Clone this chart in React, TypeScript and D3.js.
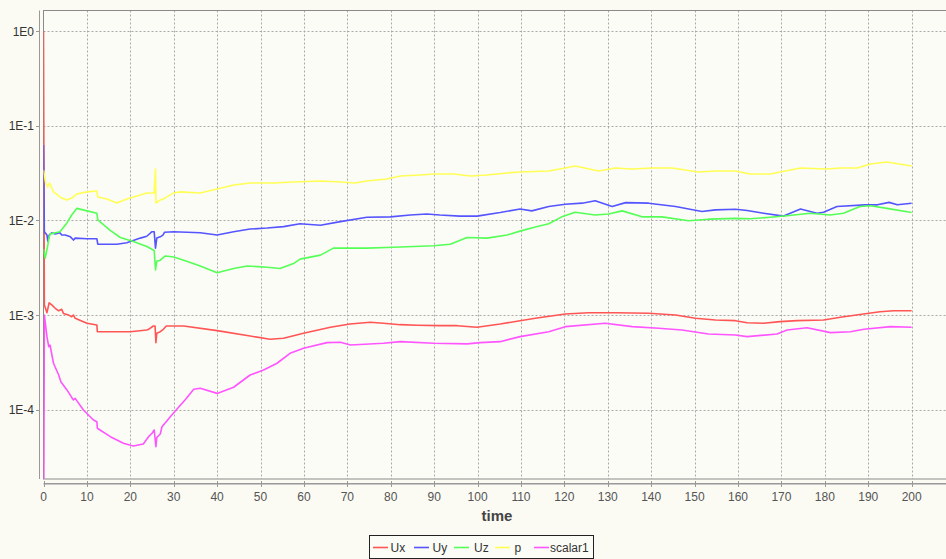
import React from 'react';
import * as d3 from 'd3';

const W = 946;
const H = 559;
const M = { left: 43.5, top: 10.5, right: 945.5, bottom: 479 };

const seriesNames = ['Ux', 'Uy', 'Uz', 'p', 'scalar1'];
const seriesColors = ['#ff5555', '#5555ff', '#55ff55', '#ffff55', '#ff55ff'];

const xTicks = d3.range(0, 201, 10);
const yTickValues = [1, 0.1, 0.01, 0.001, 0.0001];
const yTickLabels = ['1E0', '1E-1', '1E-2', '1E-3', '1E-4'];

const uxData: [number, number][] = [
  [0, 1.0], [0.2, 0.00128], [0.8, 0.00106], [1.3, 0.00135], [1.9, 0.00128], [2.7, 0.00118], [3.5, 0.00111],
  [4.2, 0.00115], [4.6, 0.00104], [5.8, 0.001], [6.5, 0.00096], [6.9, 0.001], [7.3, 0.000925], [10, 0.000819],
  [12.3, 0.000786], [12.4, 0.000668], [16.9, 0.000668], [20, 0.000668], [23.8, 0.000696], [24.2, 0.000708],
  [25.3, 0.000767], [25.7, 0.000767], [25.9, 0.000512], [26.1, 0.000643], [26.9, 0.000668], [27.6, 0.000708],
  [28.3, 0.000767], [32.3, 0.000767], [40, 0.000685], [47.6, 0.000602], [52.2, 0.000555], [55.3, 0.000569],
  [59.9, 0.000643], [66.1, 0.000743], [70.6, 0.000805], [75.3, 0.000839], [78.3, 0.000819], [82.2, 0.000792],
  [86, 0.00078], [91.3, 0.000773], [95.3, 0.000773], [99.9, 0.000743], [105.2, 0.000805], [109.8, 0.000873],
  [113.3, 0.000925], [120.2, 0.001027], [125.6, 0.00106], [131.7, 0.00106], [139.4, 0.001044], [145.6, 0.001003],
  [150.2, 0.000925], [154.8, 0.000888], [159.4, 0.000873], [162.1, 0.000831], [165.9, 0.000819], [169.7, 0.000852],
  [173.6, 0.000873], [179.7, 0.000888], [183.6, 0.000948], [188.9, 0.001027], [192.7, 0.001086], [195.9, 0.001113],
  [200, 0.001113],
];

const uyData: [number, number][] = [
  [0, 0.0625], [0.2, 0.0076], [0.8, 0.007], [1.0, 0.006], [1.3, 0.007], [1.9, 0.0074], [2.7, 0.0072], [3.8, 0.0074],
  [4.2, 0.007], [5.0, 0.007], [6.2, 0.0067], [6.9, 0.0062], [7.3, 0.0065], [10, 0.0064], [12.3, 0.0064],
  [12.5, 0.0056], [16.9, 0.0056], [19.2, 0.0058], [22.3, 0.0065], [23.8, 0.0068], [25.0, 0.0076], [25.5, 0.0076],
  [25.8, 0.0051], [26.1, 0.0065], [26.9, 0.0067], [27.5, 0.007], [27.9, 0.0075], [30, 0.0076], [36.1, 0.0074],
  [40, 0.007], [43.8, 0.0076], [47.6, 0.0081], [51.5, 0.0083], [55.3, 0.0086], [59.1, 0.0092], [63.8, 0.0089],
  [68.4, 0.0097], [74.5, 0.0108], [79.9, 0.0109], [84.5, 0.0114], [88.3, 0.0117], [91.3, 0.0114], [95.9, 0.0111],
  [99.9, 0.0111], [105.2, 0.0121], [109.8, 0.0132], [112.5, 0.0126], [116.4, 0.014], [120.2, 0.0148],
  [124.1, 0.0152], [127.1, 0.0161], [131, 0.014], [134.1, 0.0154], [139.4, 0.0152], [145.6, 0.014],
  [151.7, 0.0124], [154.8, 0.0129], [159.4, 0.0131], [162.1, 0.0127], [165.9, 0.0119], [170.5, 0.0111],
  [174.4, 0.0132], [178.2, 0.0119], [179.7, 0.0122], [182.8, 0.014], [189.2, 0.0146], [192.1, 0.0146],
  [194.8, 0.0155], [196.7, 0.0146], [200, 0.0152],
];

const uzData: [number, number][] = [
  [0, 0.005], [0.4, 0.004], [1.0, 0.0055], [1.3, 0.0067], [1.6, 0.0072], [3.8, 0.0076], [5.4, 0.0094],
  [6.5, 0.0114], [7.7, 0.0134], [10, 0.0126], [12.3, 0.0119], [12.5, 0.0101], [15.3, 0.0079], [17.7, 0.0066],
  [20.7, 0.006], [23.8, 0.0053], [25.5, 0.0048], [25.8, 0.003], [26.1, 0.0037], [26.9, 0.0038], [27.7, 0.0041],
  [28.1, 0.0042], [30, 0.0041], [33, 0.0037], [36.1, 0.0033], [40, 0.0028], [43.8, 0.0031], [46.9, 0.0033],
  [51.5, 0.0032], [54.5, 0.0031], [57.6, 0.0035], [59.1, 0.0039], [63.8, 0.0043], [66.8, 0.0051], [70.7, 0.0051],
  [74.5, 0.0051], [80.7, 0.0052], [85.3, 0.0053], [89.9, 0.0054], [93.7, 0.0056], [97.6, 0.0066], [102.2, 0.0065],
  [106.8, 0.007], [109.8, 0.0077], [113.3, 0.0085], [116.4, 0.0092], [119.4, 0.0109], [122.5, 0.0122],
  [127.1, 0.0114], [130.2, 0.0117], [133.3, 0.0126], [137.9, 0.0109], [142.5, 0.0109], [148.6, 0.0099],
  [153.2, 0.0103], [159.4, 0.0105], [162.8, 0.0104], [167.4, 0.0108], [171.3, 0.0112], [176.6, 0.0119],
  [181.2, 0.0114], [184.3, 0.0119], [188.1, 0.014], [190.5, 0.0143], [194.3, 0.0134], [200, 0.0121],
];

const pData: [number, number][] = [
  [0, 0.034], [0.5, 0.0248], [1.0, 0.0225], [1.4, 0.0248], [2.3, 0.02], [4.2, 0.0172], [5.4, 0.0164],
  [6.5, 0.0172], [7.7, 0.019], [10, 0.02], [12.3, 0.0204], [12.5, 0.0177], [14.6, 0.0168], [16.9, 0.0153],
  [19.2, 0.0168], [22.3, 0.0185], [23.8, 0.0195], [25.5, 0.0195], [25.8, 0.0349], [25.9, 0.0153], [26.9, 0.0164],
  [27.6, 0.0168], [28.4, 0.0177], [30, 0.0195], [31.5, 0.02], [36.1, 0.0195], [40, 0.0215], [43.8, 0.0236],
  [47.6, 0.0248], [53, 0.0248], [57.6, 0.0254], [63.8, 0.0261], [68.4, 0.0254], [71.8, 0.0248], [74.5, 0.0261],
  [79.1, 0.0274], [82.2, 0.0294], [86.8, 0.0302], [89.9, 0.0309], [94.5, 0.0309], [98.3, 0.0294],
  [102.2, 0.0302], [106.8, 0.0317], [109.8, 0.0324], [116.4, 0.0332], [120.2, 0.0357], [122.5, 0.0375],
  [127.9, 0.0332], [131.7, 0.0357], [135.6, 0.0349], [140.2, 0.0357], [144.8, 0.0357], [150.9, 0.0324],
  [154.8, 0.0332], [159.4, 0.0332], [162.8, 0.0309], [167.4, 0.0309], [169.7, 0.0324], [174.4, 0.0357],
  [180.5, 0.0349], [183.6, 0.0357], [187.5, 0.0357], [190.5, 0.0394], [194.3, 0.0414], [200, 0.0375],
];

const scalar1Data: [number, number][] = [
  [0, 0.000001], [0.2, 0.001], [0.8, 0.000592], [1.2, 0.000464], [1.5, 0.000483], [2.3, 0.00031], [3.5, 0.000233],
  [4.0, 0.000198], [5.4, 0.000162], [6.5, 0.000135], [6.9, 0.000127], [7.3, 0.000132], [9.2, 0.0000995],
  [11.5, 0.000078], [12.3, 0.0000748], [12.4, 0.0000638], [15.4, 0.000052], [18.4, 0.0000443], [20.7, 0.0000415],
  [23, 0.0000435], [24.2, 0.000052], [25, 0.0000565], [25.5, 0.0000612], [25.9, 0.0000408], [26.1, 0.000051],
  [26.9, 0.0000555], [27.3, 0.0000662], [28.4, 0.000076], [30, 0.000093], [32.8, 0.00013], [34.6, 0.000165],
  [36.1, 0.000169], [40, 0.000149], [43.8, 0.000173], [47.6, 0.000233], [50.7, 0.000263], [53.8, 0.00031],
  [56.8, 0.000395], [59.9, 0.000446], [65.3, 0.000512], [68.4, 0.000516], [70.7, 0.000483], [78.3, 0.000504],
  [82.2, 0.000524], [89.9, 0.000504], [97.6, 0.000496], [100.6, 0.000512], [105.2, 0.000524], [109.8, 0.000592],
  [116.4, 0.000668], [120.2, 0.000755], [129.4, 0.000819], [135.6, 0.000755], [141.7, 0.000726],
  [147.1, 0.000696], [153.2, 0.000631], [159.4, 0.000616], [162.1, 0.000592], [169, 0.000631], [171.3, 0.000696],
  [175.9, 0.000736], [181.3, 0.000653], [185.9, 0.000668], [189, 0.000708], [195.1, 0.000755], [200, 0.000743],
];

const allSeries = [uxData, uyData, uzData, pData, scalar1Data];

export default function App() {
  const x = d3.scaleLinear().domain([0, 207.8]).range([M.left, M.right]);
  const y = d3.scaleLog().domain([Math.pow(10, -4.731), Math.pow(10, 0.2165)]).range([M.bottom, M.top]);
  const line = d3
    .line<[number, number]>()
    .x((d) => x(d[0]))
    .y((d) => y(d[1]));

  const font = "'Liberation Sans', Arial, sans-serif";
  const legendItems = [
    { x: 373, tx: 390.5 },
    { x: 414, tx: 432.5 },
    { x: 454, tx: 474 },
    { x: 495, tx: 514.5 },
    { x: 534, tx: 550 },
  ];

  return (
    <svg
      width={W}
      height={H}
      style={{ position: 'absolute', left: 0, top: 0, display: 'block' }}
      fontFamily={font}
    >
      <defs>
        <clipPath id="plotclip">
          <rect x={M.left} y={M.top} width={M.right - M.left} height={M.bottom - M.top} />
        </clipPath>
      </defs>
      <rect x={0} y={0} width={W} height={H} fill="#fbfbf4" />
      <rect x={M.left} y={M.top} width={M.right - M.left} height={M.bottom - M.top} fill="#fcfcf6" />

      {/* gridlines */}
      {xTicks.filter((t) => t > 0).map((t) => (
        <line
          key={'gx' + t}
          x1={Math.round(x(t)) + 0.5}
          x2={Math.round(x(t)) + 0.5}
          y1={M.top}
          y2={M.bottom}
          stroke="#a8a8a8"
          strokeWidth={1}
          strokeDasharray="2,2"
        />
      ))}
      {yTickValues.map((v) => (
        <line
          key={'gy' + v}
          x1={M.left}
          x2={M.right}
          y1={Math.round(y(v)) + 0.5}
          y2={Math.round(y(v)) + 0.5}
          stroke="#a8a8a8"
          strokeWidth={1}
          strokeDasharray="2,2"
        />
      ))}

      {/* plot outline */}
      <rect
        x={M.left}
        y={M.top}
        width={M.right - M.left + 2}
        height={M.bottom - M.top}
        fill="none"
        stroke="#8a8a8a"
        strokeWidth={1}
      />

      {/* series */}
      <g clipPath="url(#plotclip)">
        {allSeries.map((s, i) => (
          <path
            key={seriesNames[i]}
            d={line(s) || ''}
            fill="none"
            stroke={seriesColors[i]}
            strokeWidth={1.6}
            strokeLinejoin="round"
          />
        ))}
      </g>

      {/* y axis */}
      <line x1={39.5} x2={39.5} y1={M.top} y2={M.bottom} stroke="#999" strokeWidth={1} />
      {yTickValues.map((v, i) => (
        <g key={'yt' + v}>
          <line x1={36} x2={39.5} y1={Math.round(y(v)) + 0.5} y2={Math.round(y(v)) + 0.5} stroke="#999" />
          <text
            x={34}
            y={y(v) + 4.5}
            textAnchor="end"
            fontSize={12}
            fill="#333"
          >
            {yTickLabels[i]}
          </text>
        </g>
      ))}

      {/* x axis */}
      <line x1={M.left} x2={W} y1={483.5} y2={483.5} stroke="#999" strokeWidth={1} />
      <line x1={M.left} x2={W} y1={484.5} y2={484.5} stroke="#c8c8c8" strokeWidth={1} />
      {xTicks.map((t) => (
        <g key={'xt' + t}>
          <line
            x1={Math.round(x(t)) + 0.5}
            x2={Math.round(x(t)) + 0.5}
            y1={481}
            y2={487}
            stroke="#999"
          />
          <text x={x(t)} y={500.5} textAnchor="middle" fontSize={12} fill="#555">
            {t}
          </text>
        </g>
      ))}
      <text x={497} y={521} textAnchor="middle" fontSize={15} fontWeight="bold" fill="#444">
        time
      </text>

      {/* legend */}
      <rect x={369.5} y={535.5} width={224} height={23} fill="#fcfcf6" stroke="#222" strokeWidth={1} />
      {legendItems.map((it, i) => (
        <g key={'lg' + i}>
          <line x1={it.x} x2={it.x + 15} y1={547.5} y2={547.5} stroke={seriesColors[i]} strokeWidth={1.6} />
          <text x={it.tx} y={552} fontSize={12} fill="#333">
            {seriesNames[i]}
          </text>
        </g>
      ))}
    </svg>
  );
}
